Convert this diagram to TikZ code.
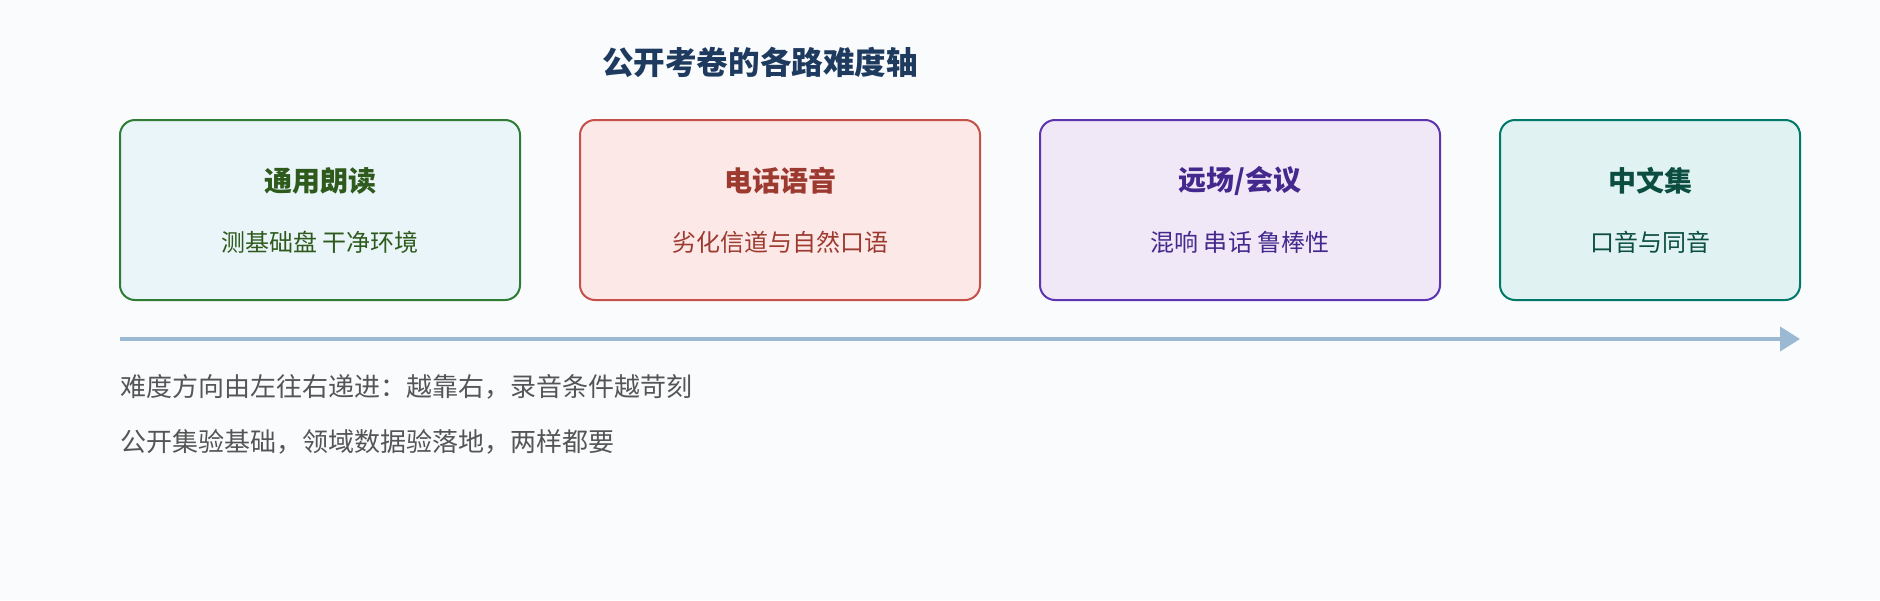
\documentclass[tikz,border=0pt]{standalone}
\usepackage{fontspec}
\setmainfont{Noto Sans CJK SC}
\usepackage{tikz}
\usetikzlibrary{calc, shapes, arrows.meta}

\definecolor{bgcol}{HTML}{F9FBFD}
\definecolor{titlecol}{HTML}{1F3A5F}
\definecolor{notecol}{HTML}{555555}
\definecolor{axiscol}{HTML}{9BB9D3}
\definecolor{readline}{HTML}{2E7D32}
\definecolor{readfill}{HTML}{EAF5FA}
\definecolor{readtext}{HTML}{2E5A1C}
\definecolor{phoneline}{HTML}{C6504A}
\definecolor{phonefill}{HTML}{FCE8E6}
\definecolor{phonetext}{HTML}{9C3A30}
\definecolor{farline}{HTML}{5E35B1}
\definecolor{farfill}{HTML}{F0E8F6}
\definecolor{fartext}{HTML}{45288E}
\definecolor{zhline}{HTML}{00796B}
\definecolor{zhfill}{HTML}{E0F2F1}
\definecolor{zhtext}{HTML}{0B4D40}

\begin{document}
\begin{tikzpicture}[x=0.75pt,y=-0.75pt]
\tikzstyle{stage}=[rectangle,rounded corners=11.25pt,line width=1.5pt,minimum width=300pt,minimum height=135pt,inner sep=0pt]
\tikzstyle{head}=[font=\fontsize{21pt}{25pt}\selectfont\bfseries,inner sep=0pt]
\tikzstyle{sub}=[font=\fontsize{18pt}{22pt}\selectfont,inner sep=0pt]
\tikzstyle{note}=[font=\fontsize{19.5pt}{23pt}\selectfont,text=notecol,anchor=west,inner sep=0pt]
\fill[bgcol] (0,0) rectangle (1880,600);
\useasboundingbox (0,0) rectangle (1880,600);
\node[font=\fontsize{23.7pt}{28pt}\selectfont\bfseries,text=titlecol,inner sep=0pt] (T) at (760,62) {公开考卷的各路难度轴};
% stages along the axis
\node[stage,draw=readline,fill=readfill] (S_1) at (320,210) {};
\node[stage,draw=phoneline,fill=phonefill] (S_2) at (780,210) {};
\node[stage,draw=farline,fill=farfill] (S_3) at (1240,210) {};
\node[stage,draw=zhline,fill=zhfill,minimum width=225pt] (S_4) at (1650,210) {};
\node[head,text=readtext] (H_1) at ($(S_1.center)+(0,-29)$) {通用朗读};
\node[sub,text=readtext] (L_1) at ($(S_1.center)+(0,32)$) {测基础盘 干净环境};
\node[head,text=phonetext] (H_2) at ($(S_2.center)+(0,-29)$) {电话语音};
\node[sub,text=phonetext] (L_2) at ($(S_2.center)+(0,32)$) {劣化信道与自然口语};
\node[head,text=fartext] (H_3) at ($(S_3.center)+(0,-29)$) {远场/会议};
\node[sub,text=fartext] (L_3) at ($(S_3.center)+(0,32)$) {混响 串话 鲁棒性};
\node[head,text=zhtext] (H_4) at ($(S_4.center)+(0,-29)$) {中文集};
\node[sub,text=zhtext] (L_4) at ($(S_4.center)+(0,32)$) {口音与同音};
% difficulty axis
\coordinate (A_0) at (120,339);
\coordinate (A_1) at (1800,339);
\draw[axiscol,line width=3pt,-{Triangle[length=15pt,width=18pt]}] (A_0) -- (A_1);
\node[note] (N_1) at (120,387) {难度方向由左往右递进：越靠右，录音条件越苛刻};
\node[note] (N_2) at (120,442) {公开集验基础，领域数据验落地，两样都要};
\end{tikzpicture}
\end{document}
